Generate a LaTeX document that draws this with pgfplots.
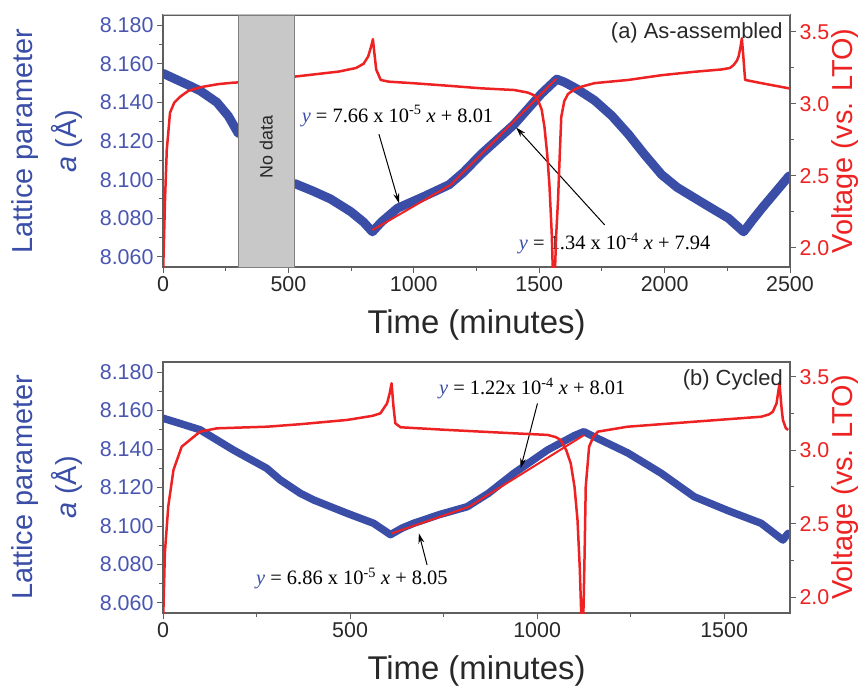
\documentclass[border=0pt]{standalone}
\usepackage{pgfplots}
\pgfplotsset{compat=1.18}
\usetikzlibrary{arrows.meta}
\usepackage{fontspec}
\setmainfont{Liberation Sans}
\newfontfamily\timesfont{Liberation Serif}
\definecolor{blueA}{RGB}{58,78,168}
\definecolor{tickblue}{RGB}{72,86,176}
\definecolor{redA}{RGB}{238,34,34}
\definecolor{axiscol}{RGB}{95,95,95}
\definecolor{txt}{RGB}{40,40,40}
\definecolor{boxgray}{RGB}{200,200,200}
\pgfplotsset{
  base/.style={
    scale only axis, width=627bp, xmin=0,
    axis line style={axiscol, line width=1.1bp},
    tick style={axiscol, line width=1bp},
    major tick length=6bp, minor tick length=3.5bp,
    tick align=outside,
    /pgf/number format/assume math mode=true,
    /pgf/number format/1000 sep={},
    tick label style={font=\fontsize{21.5}{25}\selectfont},
  },
  lattice/.style={base,
    ymin=8.0548, ymax=8.1852,
    ytick={8.06,8.08,8.10,8.12,8.14,8.16,8.18},
    minor y tick num=1, minor x tick num=1,
    xtick pos=left, ytick pos=left,
    yticklabel style={/pgf/number format/fixed, /pgf/number format/fixed zerofill, /pgf/number format/precision=3, text=tickblue},
    xticklabel style={text=txt},
    xlabel={Time (minutes)},
    xlabel style={font=\fontsize{33}{36}\selectfont, text=txt, at={(axis description cs:0.5,-0.23)}, anchor=center},
    ylabel={Lattice parameter\\\textit{a} (Å)},
    ylabel style={font=\fontsize{29}{44}\selectfont, text=blueA, align=center, at={(axis description cs:-0.185,0.5)}, anchor=center},
  },
  volt/.style={base,
    axis x line=none, axis y line*=right,
    ytick={2,2.5,3,3.5}, minor y tick num=1,
    yticklabel style={/pgf/number format/fixed, /pgf/number format/fixed zerofill, /pgf/number format/precision=1, text=redA},
    ylabel={Voltage (vs. LTO)},
    ylabel style={font=\fontsize{29}{34}\selectfont, text=redA, at={(axis description cs:1.0877,0.5)}, anchor=center},
  },
}
\tikzset{
  eq/.style={font=\timesfont\fontsize{20.5}{24}\selectfont, text=black},
  arr/.style={-{Stealth[length=10bp,width=6bp]}, line width=1bp, black},
}
\newcommand{\yv}{\textcolor{blueA}{\itshape y}}
\begin{document}
\begin{tikzpicture}
\path (0,0) rectangle (862bp,-692bp);
% ---------------- panel (a)
\begin{axis}[lattice, at={(163bp,-267bp)}, anchor=south west, height=252bp,
  xmax=2500, xtick={0,500,1000,1500,2000,2500}]
\addplot[blueA, line width=9bp, line join=round, line cap=round] coordinates {
(0,8.155) (50,8.152) (100,8.149) (148,8.146) (215,8.140) (260,8.133) (300,8.124)};
\addplot[blueA, line width=9bp, line join=round, line cap=round] coordinates {
(525,8.098) (600,8.094) (668,8.090) (748,8.0835) (800,8.078) (835,8.073) (870,8.078)
(935,8.0852) (1041,8.0913) (1141,8.0974) (1200,8.104) (1268,8.1131) (1401,8.1287)
(1508,8.1444) (1570,8.152) (1600,8.1505) (1650,8.147) (1721,8.141) (1790,8.133) (1855,8.1236)
(1920,8.113) (1988,8.1026) (2050,8.096) (2121,8.0904) (2190,8.085) (2255,8.080) (2315,8.073)
(2350,8.079) (2388,8.0852) (2495,8.1017) (2500,8.102)};
\addplot[redA, line width=2bp] coordinates {(835,8.0739) (1148,8.0974) (1568,8.1522)};
\node[eq] at (axis cs:935,8.133) {\yv{} = 7.66 x 10\textsuperscript{-5} \textit{x} + 8.01};
\draw[arr] (axis cs:861,8.1235) -- (axis cs:941,8.0878);
\node[eq] at (axis cs:1801,8.067) {\yv{} = 1.34 x 10\textsuperscript{-4} \textit{x} + 7.94};
\draw[arr] (axis cs:1761,8.0766) -- (axis cs:1408,8.127);
\end{axis}
\begin{axis}[volt, at={(163bp,-267bp)}, anchor=south west, height=252bp,
  xmax=2500, ymin=1.868, ymax=3.618]
\addplot[redA, line width=2.5bp, line join=round] coordinates {
(0,1.80) (3,2.0) (8,2.33) (15,2.68) (28,2.94) (45,3.01) (68,3.05) (100,3.09) (148,3.116) (220,3.138) (280,3.148) (300,3.15)
(525,3.19) (600,3.205) (700,3.225) (770,3.25) (800,3.28) (818,3.33) (830,3.40) (837,3.45) (843,3.35) (850,3.24) (868,3.167)
(900,3.155) (1001,3.144) (1150,3.125) (1268,3.109) (1401,3.097) (1455,3.079) (1480,3.06) (1495,3.028) (1510,2.96)
(1521,2.84) (1532,2.65) (1541,2.43) (1550,2.1) (1555,1.80) (1562,1.80) (1568,2.1) (1575,2.33) (1582,2.65) (1588,2.91)
(1600,3.02) (1615,3.07) (1640,3.10) (1668,3.12) (1721,3.145) (1855,3.167) (1988,3.20) (2121,3.224) (2228,3.24)
(2260,3.25) (2275,3.27) (2288,3.30) (2295,3.33) (2303,3.40) (2308,3.456) (2313,3.35) (2321,3.167) (2388,3.144) (2495,3.109) (2500,3.108)};
\draw[fill=boxgray, draw=axiscol!80, line width=0.8bp] (axis cs:300,1.868) rectangle (axis cs:525,3.618);
\node[rotate=90, font=\fontsize{18}{20}\selectfont, text=txt] at (axis cs:412,2.70) {No data};
\draw[black!25, line width=2.5bp] ([yshift=1.5bp]rel axis cs:0,1) -- ([yshift=1.5bp]rel axis cs:1,1);
\node[anchor=east, font=\fontsize{22}{24}\selectfont, text=txt] at (rel axis cs:0.994,0.929) {(a) As-assembled};
\end{axis}
% ---------------- panel (b)
\begin{axis}[lattice, at={(163bp,-613bp)}, anchor=south west, height=251bp,
  xmax=1676, xtick={0,500,1000,1500}]
\addplot[blueA, line width=7.5bp, line join=round, line cap=round] coordinates {
(0,8.156) (50,8.153) (99,8.150) (188,8.1395) (277,8.130) (313,8.124) (367,8.117) (403,8.1135) (492,8.1066)
(563,8.1014) (608,8.0955) (640,8.099) (670,8.1014) (740,8.106) (813,8.110) (870,8.117) (938,8.1274) (1028,8.1395)
(1100,8.147) (1125,8.149) (1152,8.1464) (1242,8.138) (1331,8.1275) (1420,8.1152) (1510,8.108) (1599,8.1014)
(1657,8.0927) (1671,8.0962)};
\addplot[redA, line width=2bp] coordinates {(612,8.0962) (818,8.110) (1126,8.1473)};
\node[eq] at (axis cs:987,8.1715) {\yv{} = 1.22x 10\textsuperscript{-4} \textit{x} + 8.01};
\draw[arr] (axis cs:1001,8.1637) -- (axis cs:956,8.130);
\node[eq] at (axis cs:505,8.0728) {\yv{} = 6.86 x 10\textsuperscript{-5} \textit{x} + 8.05};
\draw[arr] (axis cs:706,8.0797) -- (axis cs:684,8.0962);
\end{axis}
\begin{axis}[volt, at={(163bp,-613bp)}, anchor=south west, height=251bp,
  xmax=1676, ymin=1.891, ymax=3.602]
\addplot[redA, line width=2.5bp, line join=round] coordinates {
(0,1.80) (5,2.30) (14,2.616) (28,2.866) (50,3.025) (99,3.127) (144,3.15) (278,3.161) (367,3.178) (492,3.207)
(560,3.235) (581,3.252) (599,3.32) (606,3.39) (611,3.457) (616,3.30) (621,3.184) (635,3.157) (760,3.139) (938,3.116)
(1028,3.105) (1050,3.09) (1063,3.07) (1078,3.0) (1090,2.91) (1100,2.75) (1108,2.525) (1114,2.2) (1119,1.80)
(1123,1.80) (1127,2.3) (1130,2.752) (1139,3.025) (1150,3.09) (1162,3.127) (1242,3.161) (1420,3.195) (1599,3.229)
(1620,3.245) (1630,3.263) (1640,3.32) (1648,3.457) (1653,3.3) (1657,3.207) (1665,3.15) (1671,3.139)};
\node[anchor=east, font=\fontsize{22}{24}\selectfont, text=txt] at (rel axis cs:0.994,0.928) {(b) Cycled};
\end{axis}
\end{tikzpicture}
\end{document}
